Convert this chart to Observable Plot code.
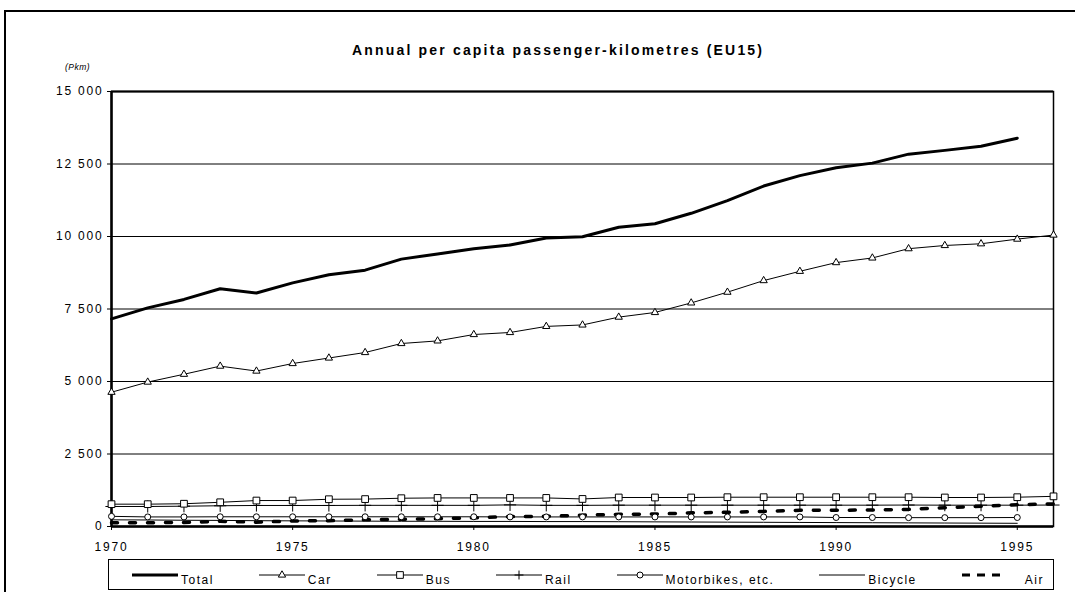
<!DOCTYPE html>
<html><head><meta charset="utf-8">
<script src="https://cdn.jsdelivr.net/npm/d3@7"></script>
<script src="https://cdn.jsdelivr.net/npm/@observablehq/plot@0.6"></script>
<style>
body{margin:0;background:#fff;width:1075px;height:592px;overflow:hidden;position:relative;font-family:"Liberation Sans",Arial,sans-serif;color:#000;}
#border{position:absolute;left:4px;top:10px;width:1200px;height:700px;border-left:2px solid #000;border-top:2px solid #000;}
#titlebox{position:absolute;left:0;top:0;}
#unit{position:absolute;left:65px;top:62px;font-size:8.5px;font-style:italic;letter-spacing:0.5px;}
#chart{position:absolute;left:0;top:0;}
#legend{position:absolute;left:108px;top:559px;width:946px;height:31px;border:1.5px solid #000;display:flex;align-items:center;padding-left:23px;box-sizing:border-box;}
.item{display:flex;align-items:center;margin-right:45px;}
.item svg{display:block;}
.item span{font-size:12px;letter-spacing:1.5px;position:relative;top:5px;margin-left:3px;white-space:nowrap;}
</style>
</head><body>
<div id="border"></div>
<svg id="titlebox" width="1075" height="70"><text x="557" y="55" text-anchor="middle" font-weight="bold" font-size="14" font-family="Liberation Sans, Arial, sans-serif" textLength="410" lengthAdjust="spacing">Annual per capita passenger-kilometres (EU15)</text></svg>
<div id="unit">(Pkm)</div>
<div id="chart"></div>
<div id="legend"></div>
<script>
const years = [1970,1971,1972,1973,1974,1975,1976,1977,1978,1979,1980,1981,1982,1983,1984,1985,1986,1987,1988,1989,1990,1991,1992,1993,1994,1995,1996];
const total = [7160,7540,7830,8200,8050,8400,8680,8840,9220,9400,9580,9710,9950,9990,10320,10440,10800,11240,11740,12100,12370,12530,12840,12970,13110,13390];
const car = [4630,4980,5250,5530,5360,5620,5810,6000,6310,6400,6620,6690,6900,6950,7220,7380,7710,8080,8480,8800,9100,9260,9580,9690,9750,9910,10050];
const bus = [770,770,785,835,895,895,940,945,975,985,985,985,985,950,1000,1000,1000,1010,1010,1010,1010,1010,1010,1000,1000,1010,1040];
const rail = [690,690,700,715,725,725,725,730,730,730,730,745,730,730,735,735,735,735,735,735,735,735,740,735,735,735,740];
const motorbikes = [350,330,330,335,335,335,335,335,335,335,335,330,330,330,330,330,330,330,330,330,310,310,305,305,305,310];
const bicycle = [230,225,215,210,200,195,190,185,180,180,175,175,170,170,165,160,155,150,145,140,135,130,125,120,115,110];
const air = [130,130,140,180,150,190,200,230,250,270,300,340,350,390,420,430,470,490,520,560,560,570,590,650,700,750,780];
const yTicks = [0,2500,5000,7500,10000,12500,15000];
const xTicks = [1970,1975,1980,1985,1990,1995];
const seriesNames = ["Total","Car","Bus","Rail","Motorbikes, etc.","Bicycle","Air"];

const rows = vals => vals.map((v,i)=>({year:years[i], value:v}));
const ff = '"Liberation Sans", Arial, sans-serif';

const chart = Plot.plot({
  width:1075, height:560,
  marginTop:91, marginBottom:34, marginLeft:111, marginRight:22,
  style:{fontFamily:ff, fontSize:"12px", letterSpacing:"1.8px", color:"#000", background:"transparent", overflow:"visible"},
  x:{domain:[1970,1996], ticks:xTicks, tickFormat:d3.format("d"), tickSize:4, tickPadding:12, label:null},
  y:{domain:[0,15000], ticks:yTicks, tickFormat:d=>d3.format(",")(d).replace(/,/g," "), tickSize:4, tickPadding:4, label:null},
  marks:[
    Plot.ruleY(yTicks.slice(1,-1), {stroke:"#000", strokeWidth:1}),
    Plot.frame({stroke:"#000", strokeWidth:1.5}),
    Plot.ruleY([15000], {stroke:"#000", strokeWidth:2}),
    Plot.ruleY([0], {stroke:"#000", strokeWidth:2.5}),
    Plot.ruleX([1970], {stroke:"#000", strokeWidth:2.5}),
    Plot.lineY(rows(bicycle), {x:"year", y:"value", stroke:"#000", strokeWidth:1}),
    Plot.lineY(rows(air), {x:"year", y:"value", stroke:"#000", strokeWidth:3.5, strokeDasharray:"6,12"}),
    Plot.lineY(rows(motorbikes), {x:"year", y:"value", stroke:"#000", strokeWidth:1}),
    Plot.dot(rows(motorbikes), {x:"year", y:"value", symbol:"circle", r:3, fill:"white", stroke:"#000", strokeWidth:1}),
    Plot.lineY(rows(rail), {x:"year", y:"value", stroke:"#000", strokeWidth:1}),
    Plot.dot(rows(rail), {x:"year", y:"value", symbol:"plus", r:4, fill:"none", stroke:"#000", strokeWidth:1}),
    Plot.lineY(rows(bus), {x:"year", y:"value", stroke:"#000", strokeWidth:1}),
    Plot.dot(rows(bus), {x:"year", y:"value", symbol:"square", r:3.8, fill:"white", stroke:"#000", strokeWidth:1}),
    Plot.lineY(rows(car), {x:"year", y:"value", stroke:"#000", strokeWidth:1}),
    Plot.dot(rows(car), {x:"year", y:"value", symbol:"triangle", r:2.7, fill:"white", stroke:"#000", strokeWidth:1}),
    Plot.lineY(rows(total), {x:"year", y:"value", stroke:"#000", strokeWidth:3})
  ]
});
document.getElementById("chart").appendChild(chart);

// Legend
const legend = d3.select("#legend");
const baseLine = (g, w=46, sw=1) => g.append("line").attr("x1",0).attr("x2",w).attr("y1",5).attr("y2",5).attr("stroke","#000").attr("stroke-width",sw);
const swatch = {
  "Total": g => baseLine(g, 46, 3),
  "Car": g => { baseLine(g);
    g.append("path").attr("d", d3.symbol(d3.symbolTriangle, 23)()).attr("transform","translate(23,5)").attr("fill","white").attr("stroke","#000"); },
  "Bus": g => { baseLine(g);
    g.append("path").attr("d", d3.symbol(d3.symbolSquare, 45)()).attr("transform","translate(23,5)").attr("fill","white").attr("stroke","#000"); },
  "Rail": g => { baseLine(g);
    g.append("path").attr("d", d3.symbol(d3.symbolPlus, 28)()).attr("transform","translate(23,5)").attr("fill","none").attr("stroke","#000"); },
  "Motorbikes, etc.": g => { baseLine(g);
    g.append("circle").attr("cx",23).attr("cy",5).attr("r",3).attr("fill","white").attr("stroke","#000"); },
  "Bicycle": g => baseLine(g),
  "Air": g => g.append("line").attr("x1",0).attr("x2",40).attr("y1",5).attr("y2",5).attr("stroke","#000").attr("stroke-width",3).attr("stroke-dasharray","8,7")
};
seriesNames.forEach(name => {
  const it = legend.append("div").attr("class","item");
  const s = it.append("svg").attr("width",46).attr("height",10).style("overflow","visible");
  swatch[name](s);
  const sp = it.append("span").text(name);
  if (name === "Air") sp.style("margin-left","17px");
});
</script>
</body></html>
